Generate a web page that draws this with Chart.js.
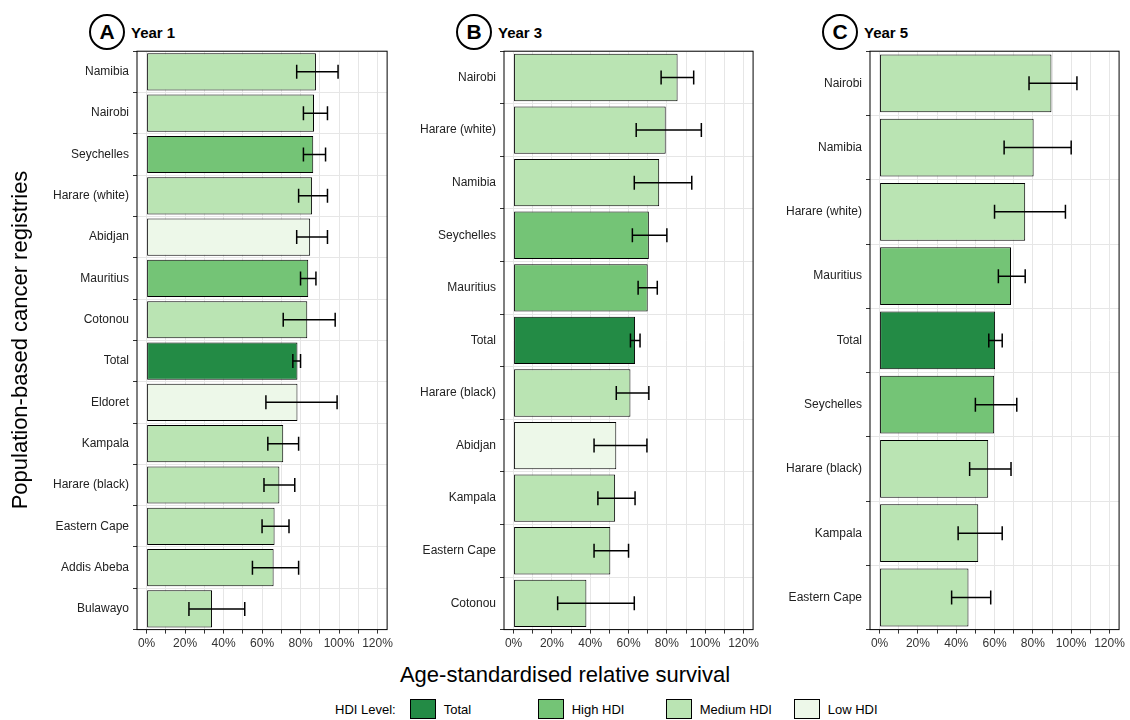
<!DOCTYPE html>
<html><head><meta charset="utf-8">
<script src="https://cdn.jsdelivr.net/npm/chart.js@4"></script>
<style>
body{margin:0;width:1130px;height:720px;background:#fff;font-family:"Liberation Sans",Arial,sans-serif;position:relative;overflow:hidden}
.p{position:absolute;top:40px;height:614px}
.tag{position:absolute;top:14px;font-weight:bold;font-size:15px;display:flex;align-items:center}
.tag span.c{display:inline-block;width:32px;height:32px;border:2px solid #000;border-radius:50%;text-align:center;line-height:32px;font-size:21px;margin-right:6px;background:#fff}
#ytitle{position:absolute;left:-150px;top:327px;width:340px;text-align:center;transform:rotate(-90deg);font-size:22px}
#xtitle{position:absolute;left:0;width:1130px;top:662px;text-align:center;font-size:22px}
#legend{position:absolute;top:699px;left:335px;font-size:13px;display:flex;align-items:center}
#legend i{display:inline-block;width:24px;height:18px;border:1px solid #000;margin:0 8px 0 14px}
#legend b{font-weight:normal;width:80px;display:inline-block}
</style></head><body>
<div class="tag" style="left:89px"><span class="c">A</span>Year 1</div>
<div class="tag" style="left:456px"><span class="c">B</span>Year 3</div>
<div class="tag" style="left:822px"><span class="c">C</span>Year 5</div>
<div class="p" style="left:30px;width:366px"><canvas id="c1"></canvas></div>
<div class="p" style="left:390px;width:372px"><canvas id="c2"></canvas></div>
<div class="p" style="left:760px;width:368px"><canvas id="c3"></canvas></div>
<div id="ytitle">Population-based cancer registries</div>
<div id="xtitle">Age-standardised relative survival</div>
<div id="legend">HDI Level:<i style="background:#238b45"></i><b>Total</b><i style="background:#74c476"></i><b>High HDI</b><i style="background:#bae4b3"></i><b>Medium HDI</b><i style="background:#edf8e9"></i><b>Low HDI</b></div>
<script>
const hdiColors = {T:'#238b45', H:'#74c476', M:'#bae4b3', L:'#edf8e9'};

const y1Labels = ['Namibia','Nairobi','Seychelles','Harare (white)','Abidjan','Mauritius','Cotonou','Total','Eldoret','Kampala','Harare (black)','Eastern Cape','Addis Abeba','Bulawayo'];
const y1Values = [88,87,86.6,86,85,84,83.5,78.4,78.4,71,69,66.5,66,34];
const y1Low = [78,81.5,81.5,79,78,80,71,76,62,63,61,60,55,22];
const y1High = [99.5,94,93,94,94,88,98,80,99,79,77,74,79,51];
const y1Hdi = ['M','M','H','M','L','H','M','T','L','M','M','M','M','M'];

const y3Labels = ['Nairobi','Harare (white)','Namibia','Seychelles','Mauritius','Total','Harare (black)','Abidjan','Kampala','Eastern Cape','Cotonou'];
const y3Values = [85.6,79.4,76,70.6,70,63.4,61,53.6,53,50.5,38];
const y3Low = [77,64,63,62,65,61,53.6,42,44,42,23];
const y3High = [94,98,93,80,75,66,70.6,69.6,63.4,60,63];
const y3Hdi = ['M','M','M','H','H','T','M','L','M','M','M'];

const y5Labels = ['Nairobi','Namibia','Harare (white)','Mauritius','Total','Seychelles','Harare (black)','Kampala','Eastern Cape'];
const y5Values = [89.7,80.4,76,68.6,60.3,59.8,56.7,51.5,46.4];
const y5Low = [78,65,60,62,57,50,47,41,37.6];
const y5High = [103,100,97,76,64,71.6,68.6,64,58];
const y5Hdi = ['M','M','M','H','T','H','M','M','M'];

const errorBars = {
  id:'errorBars',
  afterDatasetsDraw(chart, args, opts){
    const ctx = chart.ctx, x = chart.scales.x, meta = chart.getDatasetMeta(0);
    ctx.save(); ctx.strokeStyle='#000'; ctx.lineWidth=1.5;
    meta.data.forEach((bar,i)=>{
      const a = x.getPixelForValue(opts.low[i]), b = x.getPixelForValue(opts.high[i]), y = bar.y;
      ctx.beginPath(); ctx.moveTo(a,y); ctx.lineTo(b,y);
      ctx.moveTo(a,y-7); ctx.lineTo(a,y+7); ctx.moveTo(b,y-7); ctx.lineTo(b,y+7); ctx.stroke();
    });
    const c = chart.chartArea; ctx.lineWidth=1; ctx.strokeStyle='#000';
    ctx.strokeRect(c.left, c.top, c.right-c.left, c.bottom-c.top);
    ctx.restore();
  }
};

function make(id, labels, values, low, high, hdi, yw){
  new Chart(document.getElementById(id), {
    type:'bar',
    data:{labels:labels, datasets:[{data:values, backgroundColor:hdi.map(h=>hdiColors[h]), borderColor:'#000', borderWidth:1, borderSkipped:false, barPercentage:0.9, categoryPercentage:1}]},
    options:{
      indexAxis:'y', responsive:true, maintainAspectRatio:false, animation:false,
      layout:{padding:{top:10,right:4}},
      plugins:{legend:{display:false}, tooltip:{enabled:false}, errorBars:{low:low, high:high}},
      scales:{
        x:{min:-5, max:125, grid:{color:'#e6e6e6', drawTicks:true, tickLength:4, tickColor:'#333'}, border:{display:false},
           afterBuildTicks(s){ s.ticks=[]; for(let v=0; v<=120; v+=10) s.ticks.push({value:v}); },
           ticks:{color:'#333', font:{size:12, family:'Liberation Sans'}, autoSkip:false, maxRotation:0, callback:v=> v%20===0 ? v+'%' : ''}},
        y:{afterFit(s){ s.width = yw; }, grid:{color:'#e6e6e6', tickLength:4, tickColor:'#333'}, border:{display:false}, ticks:{color:'#222', padding:4, font:{size:12, family:'Liberation Sans'}}}
      }
    },
    plugins:[errorBars]
  });
}
make('c1', y1Labels, y1Values, y1Low, y1High, y1Hdi, 107);
make('c2', y3Labels, y3Values, y3Low, y3High, y3Hdi, 114);
make('c3', y5Labels, y5Values, y5Low, y5High, y5Hdi, 110);
</script>
</body></html>
